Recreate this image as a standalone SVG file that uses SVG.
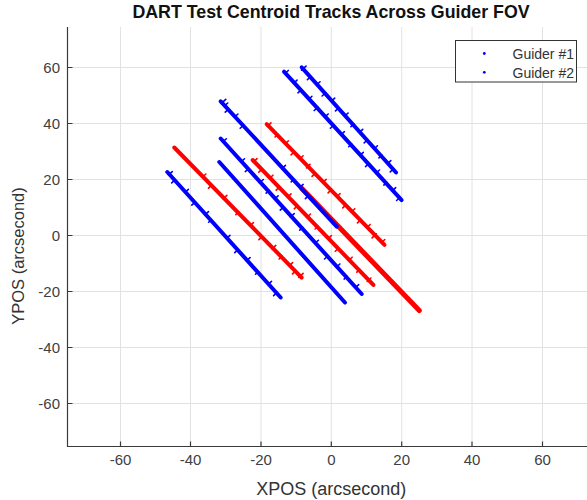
<svg xmlns="http://www.w3.org/2000/svg" width="587" height="500" viewBox="0 0 587 500">
<style>
.grid{stroke:#e2e2e2;stroke-width:1;fill:none}
.ax{stroke:#3a3a3a;stroke-width:1.2;fill:none}
.tk{font-family:"Liberation Sans",Arial,sans-serif;font-size:15px;fill:#404040}
.lab{font-family:"Liberation Sans",Arial,sans-serif;font-size:18px;fill:#333}
.ylab{font-family:"Liberation Sans",Arial,sans-serif;font-size:16.5px;fill:#333}
.ttl{font-family:"Liberation Sans",Arial,sans-serif;font-size:17.8px;font-weight:bold;fill:#111}
.leg{font-family:"Liberation Sans",Arial,sans-serif;font-size:14px;fill:#333}
.b{stroke:#0000ff}
.r{stroke:#ff0000}
.trk{stroke-width:4;stroke-linecap:round;fill:none}
.sp{stroke-width:1.6;stroke-linecap:round;fill:none}
</style>
<rect width="587" height="500" fill="#ffffff"/>
<g id="grid">
<path class="grid" d="M120.5 27V446M190.5 27V446M261 27V446M331.3 27V446M401.7 27V446M472 27V446M542.5 27V446"/>
<path class="grid" d="M67 67.5H587M67 123.5H587M67 179.5H587M67 235.5H587M67 291.5H587M67 347.5H587M67 403.5H587"/>
</g>
<g id="tracks">
<g id="trackD" transform="translate(266.7,124.2) rotate(45.7)">
<path class="trk r" d="M0 0H168.7"/>
<path class="sp r" d="M2 -4v5M15 -1v4M27 -4v3M39 1v3M48 -4v4M59 -3v5M69 0v4M81 -4v3M92 -1v5M101 -4v4M113 0v4M122 -4v5M134 -1v5M144 -4v3M155 -2v6M165 -4v5"/>
</g>
<g id="trackF" transform="translate(252.7,160) rotate(46)">
<path class="trk r" d="M0 0H173.7"/>
<path class="sp r" d="M2 -4v5M13 0v4M25 -4v3M38 -1v5M51 -4v4M64 0v4M79 -4v5M93 -1v4M109 -4v3M123 0v4M139 -4v5M153 -1v4M167 -3v5"/>
</g>
<g id="trackH" transform="translate(174.3,147.5) rotate(45.6)">
<path class="trk r" d="M0 0H182"/>
<path class="sp r" d="M41 -4v4M53 0v4M71 -4v5M91 -1v4M109 -4v3M125 0v4M141 -4v5M153 -1v4M165 -4v4M173 0v4M180 -4v6"/>
</g>
<g id="trackJ" transform="translate(301.7,188.3) rotate(46.1)">
<path class="trk r" d="M0 0H169.6" style="stroke-width:5"/>
</g>
<g id="trackA" transform="translate(301.7,67.3) rotate(48.1)">
<path class="trk b" d="M0 0H141.3"/>
<path class="sp b" d="M2 -4v6M13 0v4M23 -4v3M35 -1v5M45 -4v4M55 0v4M65 -4v5M77 -1v4M87 -4v3M98 0v4M109 -4v5M119 -1v4M129 -4v4M137 0v4"/>
</g>
<g id="trackB" transform="translate(284,71.7) rotate(47.5)">
<path class="trk b" d="M2 -4v4M15 -4v5M25 0v4M37 -4v3M49 -1v5M61 -4v4M73 0v4M85 -4v5M99 -1v4M113 -4v3M125 0v4M137 -4v5M151 -1v4M161 -4v4M171 0v4" style="stroke-width:1.6"/>
<path class="trk b" d="M0 0H174.1"/>
</g>
<g id="trackC" transform="translate(220.7,101.3) rotate(47.2)">
<path class="trk b" d="M0 0H170.8"/>
<path class="sp b" d="M2 -5v6M6 -4v4M11 0v4M21 -4v3M33 0v4M91 -4v5M107 -1v4M117 -4v4M129 0v4"/>
</g>
<g id="trackE" transform="translate(220.7,138.5) rotate(47.8)">
<path class="trk b" d="M0 0H209.9"/>
<path class="sp b" d="M4 -4v5M31 -4v4M41 0v4M59 -4v5M71 -1v4M81 -4v3M93 0v4M105 -4v5M121 -1v4M141 -4v4M159 0v4M173 -4v5M187 -1v4M201 -4v4"/>
</g>
<g id="trackG" transform="translate(219.3,162) rotate(48.2)">
<path class="trk b" d="M0 0H188.5"/>
</g>
<g id="trackI" transform="translate(167.3,172) rotate(47.9)">
<path class="trk b" d="M0 0H169.1"/>
<path class="sp b" d="M3 -4v5M11 0v4M27 -4v4M41 0v4M57 -4v5M65 -1v4M89 -4v4M105 0v4M119 -4v5M135 -1v4M151 -4v4M163 0v4"/>
</g>
</g>
<g id="axes">
<path class="ax" d="M67.5 27V446.5H587"/>
<path class="ax" d="M67.5 67.5h5M67.5 123.5h5M67.5 179.5h5M67.5 235.5h5M67.5 291.5h5M67.5 347.5h5M67.5 403.5h5"/>
<path class="ax" d="M120.5 446.5v-5M190.5 446.5v-5M261 446.5v-5M331.3 446.5v-5M401.7 446.5v-5M472 446.5v-5M542.5 446.5v-5"/>
<g class="tk" text-anchor="middle">
<text x="120.5" y="465">-60</text>
<text x="190.5" y="465">-40</text>
<text x="261" y="465">-20</text>
<text x="331.3" y="465">0</text>
<text x="401.7" y="465">20</text>
<text x="472" y="465">40</text>
<text x="542.5" y="465">60</text>
</g>
<g class="tk" text-anchor="end">
<text x="60" y="73">60</text>
<text x="60" y="129">40</text>
<text x="60" y="185">20</text>
<text x="60" y="241">0</text>
<text x="60" y="297">-20</text>
<text x="60" y="353">-40</text>
<text x="60" y="409">-60</text>
</g>
<text class="lab" x="331.3" y="495" text-anchor="middle">XPOS (arcsecond)</text>
<text class="ylab" transform="translate(24,256) rotate(-90)" text-anchor="middle">YPOS (arcsecond)</text>
</g>
<g id="legend">
<rect x="455.5" y="40.5" width="121" height="41.5" fill="#ffffff" stroke="#333333" stroke-width="1"/>
<circle cx="484.3" cy="53.5" r="1.4" fill="#0000ff"/>
<circle cx="484.3" cy="72.3" r="1.4" fill="#0000ff"/>
<text class="leg" x="512.5" y="58.5">Guider #1</text>
<text class="leg" x="512.5" y="77.5">Guider #2</text>
</g>
<text id="title" class="ttl" x="331" y="17.5" text-anchor="middle">DART Test Centroid Tracks Across Guider FOV</text>
</svg>
